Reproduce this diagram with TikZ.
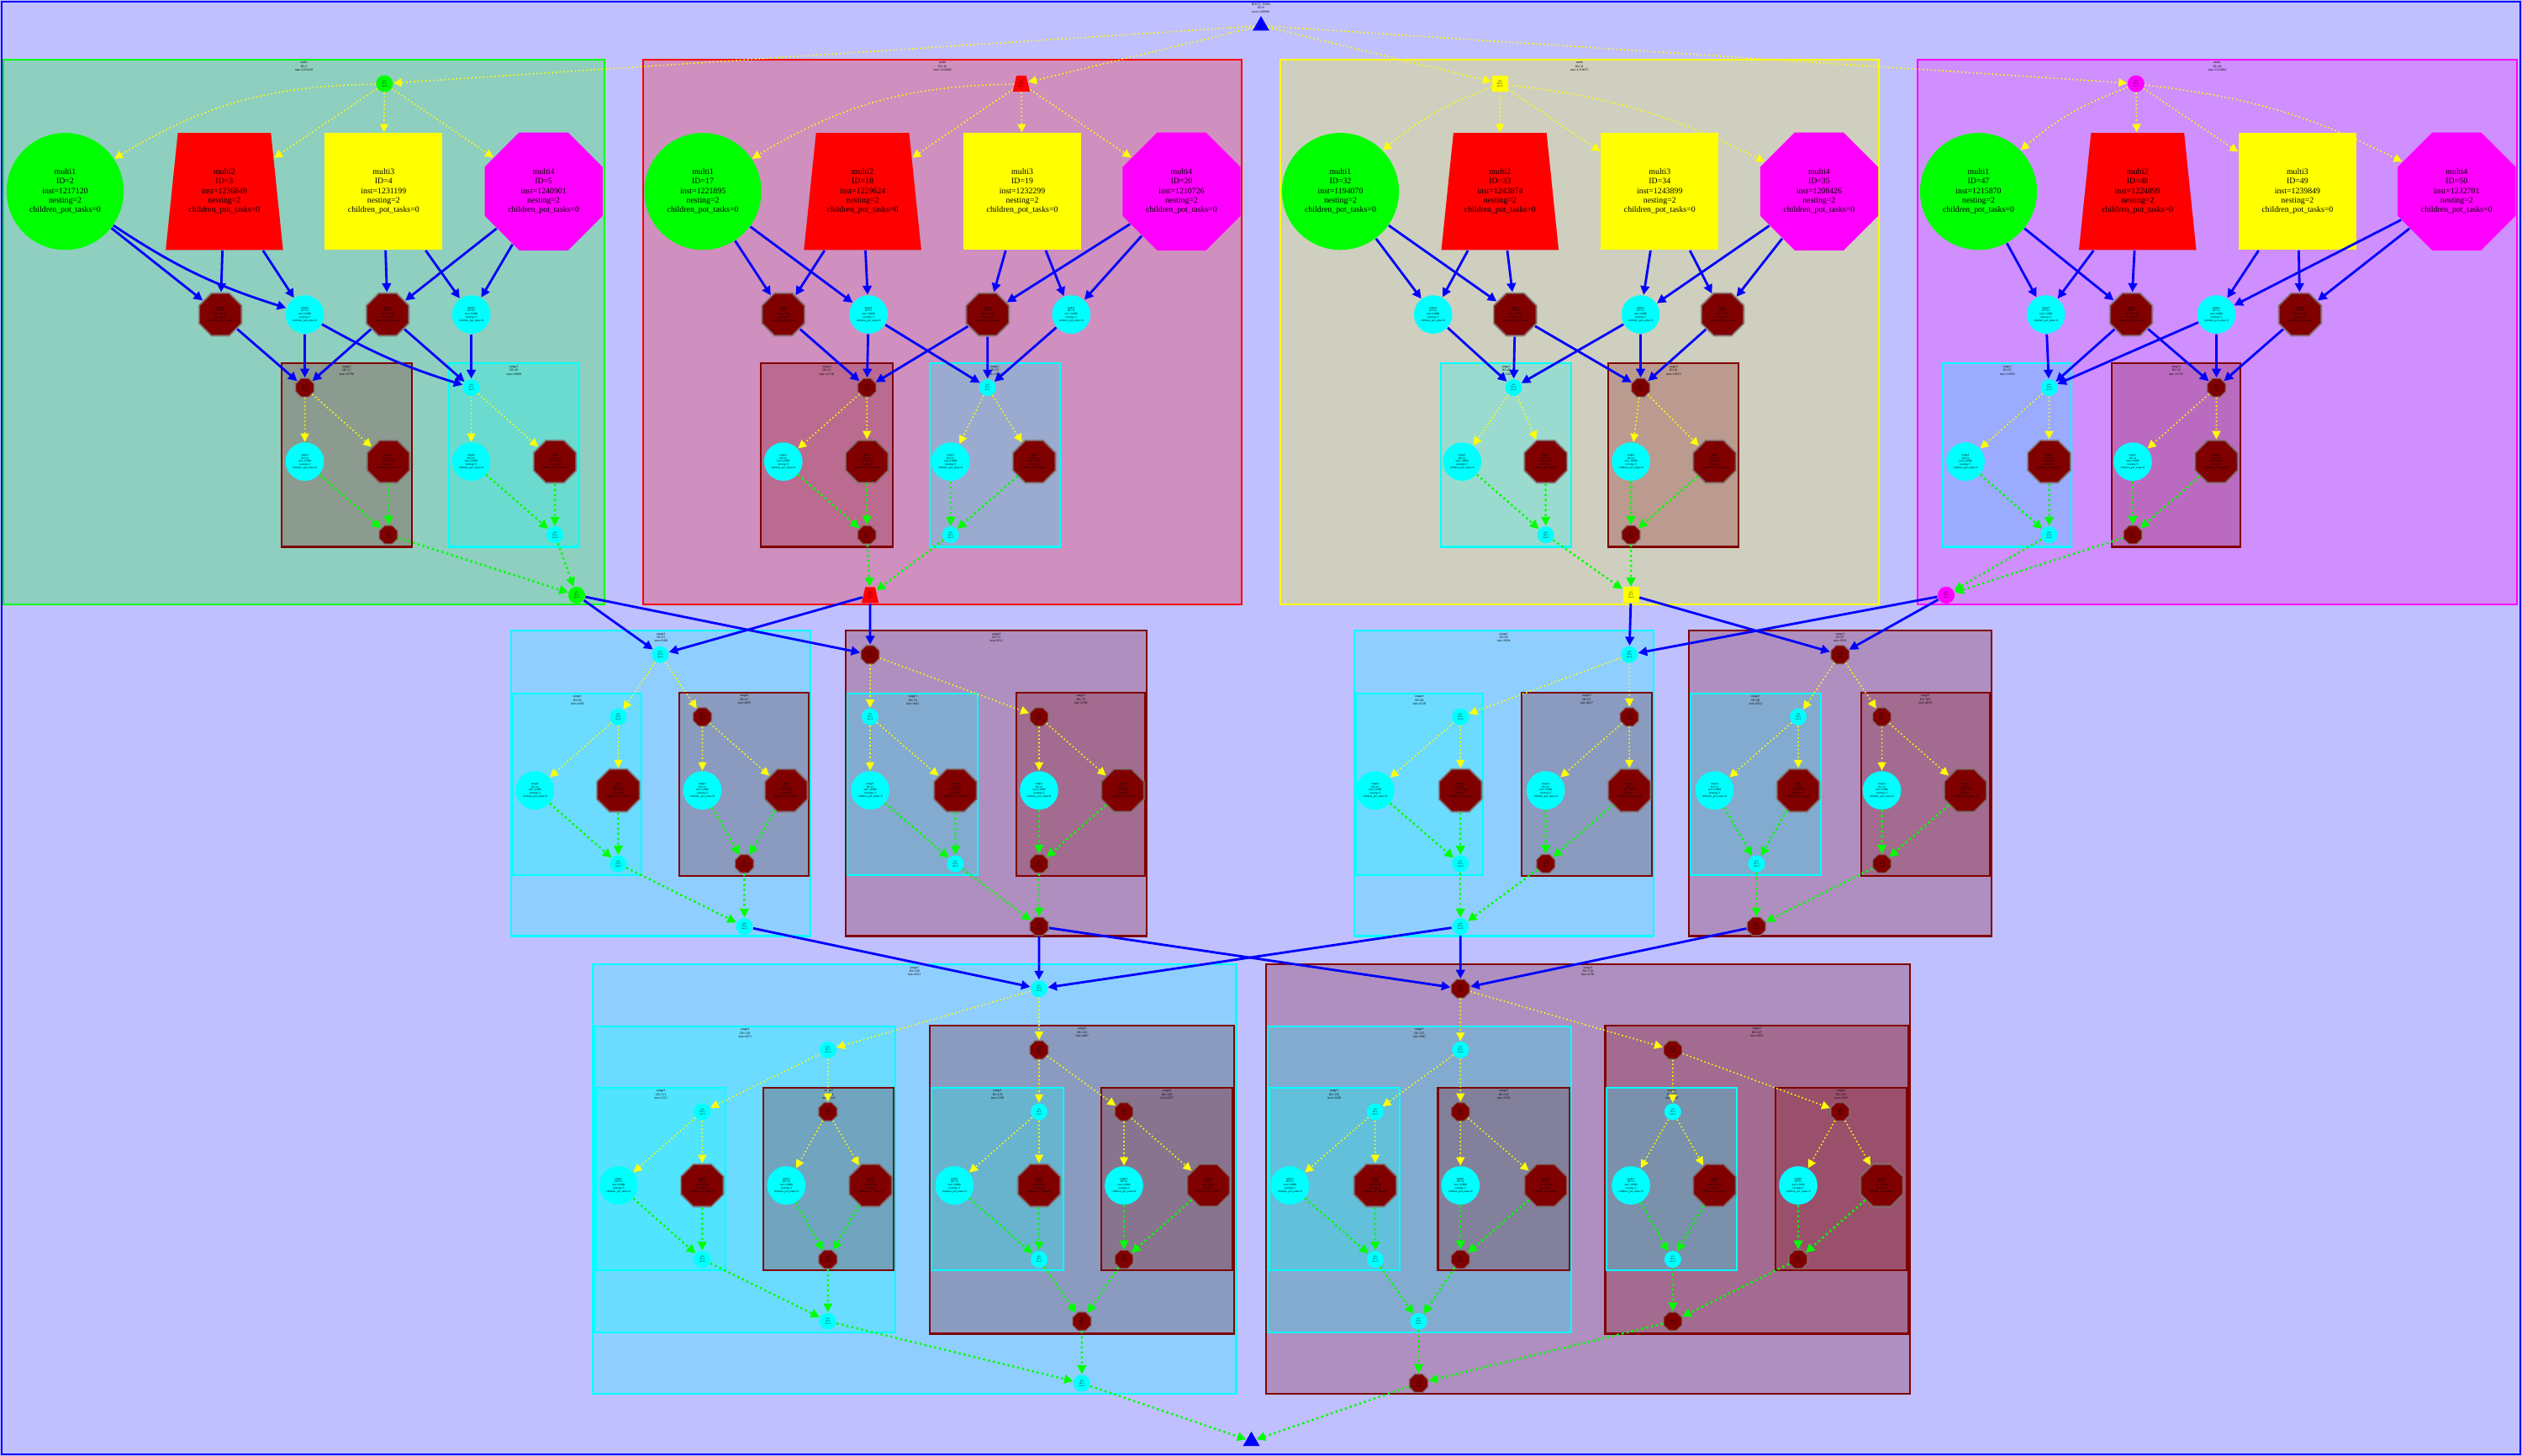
\documentclass[tikz,border=0pt]{standalone}
\usepackage{fontspec}
\setmainfont{Liberation Serif}
\usetikzlibrary{shapes.geometric,arrows.meta,fit,calc}
\definecolor{gr}{RGB}{0,255,0}
\definecolor{cy}{RGB}{0,255,255}
\definecolor{mar}{RGB}{128,0,0}
\definecolor{mg}{RGB}{255,0,255}
\definecolor{yl}{RGB}{255,255,0}
\definecolor{bl}{RGB}{0,0,255}
\definecolor{bgc}{RGB}{192,192,255}
\pgfdeclarelayer{boxes}
\pgfsetlayers{boxes,main}
\newcommand{\sTxt}{join\\ID=0\\inst=0}
\newcommand{\cTxt}{range1\\ID=12\\inst=12088\\nesting=3\\children\_pot\_tasks=0}
\newcommand{\mTxt}{range2\\ID=13\\inst=12790\\nesting=3\\children\_pot\_tasks=0}
\newcommand{\multiTxt}[3]{multi#1\\ID=#2\\inst=#3\\nesting=2\\children\_pot\_tasks=0}
\newcommand{\clbox}[5]{%
  \begin{pgfonlayer}{boxes}\node[#2, fit={(#3) (#4)}] (#1) {};\end{pgfonlayer}%
  \node[lab] at ([yshift=-0.8pt]#1.north) {#5};}
\newcommand{\leafbox}[9]{%
  \clbox{#1box}{box#2}{#3}{#4}{#9}%
  \node[small#2] (#1en) at (#5) {\sTxt};
  \node[bigcy] (#1c) at (#6) {\cTxt};
  \node[bigmar] (#1m) at (#7) {\mTxt};
  \node[small#2] (#1ex) at (#8) {\sTxt};
  \draw[yel] (#1en) -- (#1c);
  \draw[yel] (#1en) -- (#1m);
  \draw[grn] (#1c) -- (#1ex);
  \draw[grn] (#1m) -- (#1ex);}
\begin{document}
\begin{tikzpicture}[x=0.19133mm,y=-0.19133mm,
 boxbase/.style={rectangle, inner sep=0pt, line width=0.6pt, fill opacity=0.25},
 boxcy/.style={boxbase, draw=cy, fill=cy},
 boxmar/.style={boxbase, draw=mar, fill=mar},
 boxgr/.style={boxbase, draw=gr, fill=gr},
 boxred/.style={boxbase, draw=red, fill=red},
 boxyl/.style={boxbase, draw=yl, fill=yl},
 boxmg/.style={boxbase, draw=mg, fill=mg},
 lab/.style={anchor=north, align=center, inner sep=0pt, font=\fontsize{1.1pt}{1.25pt}\selectfont, text=black},
 ntxt/.style={align=center, inner sep=0pt, font=\fontsize{0.95pt}{1.1pt}\selectfont},
 stxt/.style={align=center, inner sep=0pt, font=\fontsize{0.75pt}{0.85pt}\selectfont},
 mtxt/.style={align=center, inner sep=0pt, font=\fontsize{2.8pt}{3.15pt}\selectfont},
 oct/.style={regular polygon, regular polygon sides=8},
 bigcy/.style={ntxt, circle, fill=cy, minimum size=13pt},
 bigmar/.style={ntxt, oct, fill=mar, draw=gray, draw opacity=0.6, line width=0.7pt, minimum size=15.6pt},
 smallcy/.style={stxt, circle, fill=cy, minimum size=5.7pt},
 smallmar/.style={stxt, oct, fill=mar, draw=gray, draw opacity=0.6, line width=0.5pt, minimum size=6.8pt},
 entgr/.style={stxt, circle, fill=gr, minimum size=5.7pt},
 entmg/.style={stxt, circle, fill=mg, minimum size=5.7pt},
 entyl/.style={stxt, rectangle, fill=yl, minimum size=5.4pt},
 entred/.style={stxt, trapezium, trapezium left angle=72, trapezium right angle=72, trapezium stretches=true, fill=red, minimum width=5.8pt, minimum height=5.4pt},
 mone/.style={mtxt, circle, fill=gr, minimum size=39.6pt},
 mtwo/.style={mtxt, trapezium, trapezium left angle=78.3, trapezium right angle=78.3, trapezium stretches=true, fill=red, minimum width=39.8pt, minimum height=39.6pt},
 mthree/.style={mtxt, rectangle, fill=yl, minimum width=39.8pt, minimum height=39.6pt},
 mfour/.style={mtxt, oct, fill=mg, minimum size=43.2pt},
 tri/.style={stxt, regular polygon, regular polygon sides=3, fill=bl, minimum size=6.5pt},
 blu/.style={draw=bl, line width=0.8pt, -{Triangle[length=3pt,width=3pt]}},
 yel/.style={draw=yl, line width=0.45pt, dash pattern=on 0.45pt off 0.85pt, -{Triangle[length=2.8pt,width=2.8pt]}},
 grn/.style={draw=gr, line width=0.7pt, dash pattern=on 0.7pt off 1pt, -{Triangle[length=3pt,width=3pt]}},
]
\useasboundingbox (0,0) rectangle (1568,905);
\begin{pgfonlayer}{boxes}
\fill[bgc] (0,0) rectangle (1568,905);
\draw[bl, line width=0.6pt] (1,1) rectangle (1567,904);
\end{pgfonlayer}

% root
\node[lab] at (784,1.6) {ROOT\_TASK\\ID=0\\inst=1209901};
\node[tri] (root) at (784,16) {};

% ---------------- top cluster 1 (green)
\clbox{C1}{boxgr}{2,37}{376,376}{multi\\ID=1\\inst=1201220}
\node[entgr] (c1en) at (239,52) {\sTxt};
\node[mone] (c1m1) at (40.5,119) {\multiTxt{1}{2}{1217120}};
\node[mtwo] (c1m2) at (139.5,119) {\multiTxt{2}{3}{1236849}};
\node[mthree] (c1m3) at (238.5,119) {\multiTxt{3}{4}{1231199}};
\node[mfour] (c1m4) at (338,119) {\multiTxt{4}{5}{1240901}};
\node[bigmar] (c1r1) at (137,195.5) {\mTxt};
\node[bigcy] (c1r2) at (189.5,195.5) {\cTxt};
\node[bigmar] (c1r3) at (241,195.5) {\mTxt};
\node[bigcy] (c1r4) at (293,195.5) {\cTxt};
\leafbox{c1a}{mar}{175,226}{256,340}{189.5,241}{189.5,287}{241.5,287}{241.5,332.5}{range2\\ID=11\\inst=12790}
\leafbox{c1b}{cy}{279,226}{360,340}{293,241}{293,287}{345,287}{345,332.5}{range1\\ID=10\\inst=12089}
\node[entgr] (c1ex) at (358.5,370) {\sTxt};
\draw[yel] (c1en) to[bend right=15] (c1m1);
\draw[yel] (c1en) -- (c1m2);
\draw[yel] (c1en) -- (c1m3);
\draw[yel] (c1en) -- (c1m4);
\draw[blu] (c1m1) to[bend right=8] (c1r2);
\draw[blu] (c1r2) to[bend right=6] (c1ben);
\foreach \a/\b in {m1/r1,m2/r1,m2/r2,m3/r3,m3/r4,m4/r3,m4/r4,r1/aen,r2/aen,r3/aen,r3/ben,r4/ben}
  \draw[blu] (c1\a) -- (c1\b);
\draw[grn] (c1aex) -- (c1ex);
\draw[grn] (c1bex) -- (c1ex);

% ---------------- top cluster 2 (red)
\clbox{C2}{boxred}{400,37}{772,376}{multi\\ID=16\\inst=1218466}
\node[entred] (c2en) at (635,52) {\sTxt};
\node[mone] (c2m1) at (437,119) {\multiTxt{1}{17}{1221895}};
\node[mtwo] (c2m2) at (536.3,119) {\multiTxt{2}{18}{1229624}};
\node[mthree] (c2m3) at (635.6,119) {\multiTxt{3}{19}{1232299}};
\node[mfour] (c2m4) at (734.6,119) {\multiTxt{4}{20}{1210726}};
\node[bigmar] (c2r1) at (487,195.5) {\mTxt};
\node[bigcy] (c2r2) at (540,195.5) {\cTxt};
\node[bigmar] (c2r3) at (614,195.5) {\mTxt};
\node[bigcy] (c2r4) at (666,195.5) {\cTxt};
\leafbox{c2a}{mar}{473,226}{555,340}{539,241}{487,287}{539,287}{539,332.5}{range2\\ID=26\\inst=12716}
\leafbox{c2b}{cy}{578,226}{659,340}{614,241}{591,287}{643,287}{591,332.5}{range1\\ID=25\\inst=12102}
\node[entred] (c2ex) at (541,370) {\sTxt};
\draw[yel] (c2en) to[bend right=15] (c2m1);
\draw[yel] (c2en) -- (c2m2);
\draw[yel] (c2en) -- (c2m3);
\draw[yel] (c2en) -- (c2m4);
\foreach \a/\b in {m1/r1,m1/r2,m2/r1,m2/r2,m3/r3,m3/r4,m4/r3,m4/r4,r1/aen,r2/aen,r2/ben,r3/aen,r3/ben,r4/ben}
  \draw[blu] (c2\a) -- (c2\b);
\draw[grn] (c2aex) -- (c2ex);
\draw[grn] (c2bex) -- (c2ex);

% ---------------- top cluster 3 (yellow)
\clbox{C3}{boxyl}{796,37}{1168,376}{multi\\ID=31\\inst=1216075}
\node[entyl] (c3en) at (932.5,52) {\sTxt};
\node[mone] (c3m1) at (833.4,119) {\multiTxt{1}{32}{1194070}};
\node[mtwo] (c3m2) at (932.6,119) {\multiTxt{2}{33}{1243874}};
\node[mthree] (c3m3) at (1031.9,119) {\multiTxt{3}{34}{1243899}};
\node[mfour] (c3m4) at (1131,119) {\multiTxt{4}{35}{1208426}};
\node[bigcy] (c3r1) at (891,195.5) {\cTxt};
\node[bigmar] (c3r2) at (942,195.5) {\mTxt};
\node[bigcy] (c3r3) at (1020,195.5) {\cTxt};
\node[bigmar] (c3r4) at (1071,195.5) {\mTxt};
\leafbox{c3a}{cy}{896,226}{977,340}{941,241}{909,287}{961,287}{961,332.5}{range1\\ID=40\\inst=12064}
\leafbox{c3b}{mar}{1000,226}{1081,340}{1020,241}{1014,287}{1066,287}{1014,332.5}{range2\\ID=41\\inst=12813}
\node[entyl] (c3ex) at (1014,370) {\sTxt};
\draw[yel] (c3en) to[bend right=10] (c3m1);
\draw[yel] (c3en) -- (c3m2);
\draw[yel] (c3en) -- (c3m3);
\draw[yel] (c3en) to[bend left=10] (c3m4);
\foreach \a/\b in {m1/r1,m1/r2,m2/r1,m2/r2,m3/r3,m3/r4,m4/r3,m4/r4,r1/aen,r2/aen,r2/ben,r3/aen,r3/ben,r4/ben}
  \draw[blu] (c3\a) -- (c3\b);
\draw[grn] (c3aex) -- (c3ex);
\draw[grn] (c3bex) -- (c3ex);

% ---------------- top cluster 4 (magenta)
\clbox{C4}{boxmg}{1192,37}{1565,376}{multi\\ID=46\\inst=1213084}
\node[entmg] (c4en) at (1328,52) {\sTxt};
\node[mone] (c4m1) at (1230.1,119) {\multiTxt{1}{47}{1215870}};
\node[mtwo] (c4m2) at (1329,119) {\multiTxt{2}{48}{1224899}};
\node[mthree] (c4m3) at (1428.4,119) {\multiTxt{3}{49}{1239849}};
\node[mfour] (c4m4) at (1527.4,119) {\multiTxt{4}{50}{1232701}};
\node[bigcy] (c4r1) at (1272,195.5) {\cTxt};
\node[bigmar] (c4r2) at (1325,195.5) {\mTxt};
\node[bigcy] (c4r3) at (1378,195.5) {\cTxt};
\node[bigmar] (c4r4) at (1430,195.5) {\mTxt};
\leafbox{c4a}{cy}{1208,226}{1288,340}{1274,241}{1222,287}{1274,287}{1274,332.5}{range1\\ID=55\\inst=12050}
\leafbox{c4b}{mar}{1313,226}{1393,340}{1378,241}{1326,287}{1378,287}{1326,332.5}{range2\\ID=56\\inst=12741}
\node[entmg] (c4ex) at (1210,370) {\sTxt};
\draw[yel] (c4en) to[bend right=10] (c4m1);
\draw[yel] (c4en) -- (c4m2);
\draw[yel] (c4en) -- (c4m3);
\draw[yel] (c4en) to[bend left=10] (c4m4);
\foreach \a/\b in {m1/r1,m1/r2,m2/r1,m2/r2,m3/r3,m3/r4,m4/r3,m4/r4,r1/aen,r2/aen,r2/ben,r3/aen,r3/ben,r4/ben}
  \draw[blu] (c4\a) -- (c4\b);
\draw[grn] (c4aex) -- (c4ex);
\draw[grn] (c4bex) -- (c4ex);

% root edges
\draw[yel] (root) -- (c1en);
\draw[yel] (root) -- (c2en);
\draw[yel] (root) -- (c3en);
\draw[yel] (root) -- (c4en);

% ---------------- middle clusters
\clbox{A}{boxcy}{318,392}{504,582}{range1\\ID=61\\inst=9108}
\node[smallcy] (aen) at (410.5,407) {\sTxt};
\leafbox{a1}{cy}{319,431}{399,544}{384.4,445.7}{332.6,491.4}{384.4,491.4}{384.4,537}{range1\\ID=62\\inst=4203}
\leafbox{a2}{mar}{422.5,430.5}{503,544.5}{436.7,445.7}{436.7,491.4}{488.8,491.4}{462.8,537}{range2\\ID=67\\inst=4905}
\node[smallcy] (aex) at (462.8,576) {\sTxt};
\draw[yel] (aen) -- (a1en); \draw[yel] (aen) -- (a2en);
\draw[grn] (a1ex) -- (aex); \draw[grn] (a2ex) -- (aex);

\clbox{B}{boxmar}{526,392}{713,582}{range2\\ID=73\\inst=9212}
\node[smallmar] (ben) at (541,407) {\sTxt};
\leafbox{b1}{cy}{527,431}{608,544}{541,445.7}{541,491.4}{594,491.4}{594,537}{range1\\ID=74\\inst=4411}
\leafbox{b2}{mar}{632,430.5}{712,544.5}{646,445.7}{646,491.4}{698,491.4}{646,537}{range2\\ID=79\\inst=4780}
\node[smallmar] (bex) at (646,576) {\sTxt};
\draw[yel] (ben) -- (b1en); \draw[yel] (ben) -- (b2en);
\draw[grn] (b1ex) -- (bex); \draw[grn] (b2ex) -- (bex);

\clbox{Cm}{boxcy}{842,392}{1028,582}{range1\\ID=85\\inst=9034}
\node[smallcy] (cen) at (1013,407) {\sTxt};
\leafbox{k1}{cy}{843,431}{922,544}{908,445.7}{855,491.4}{908,491.4}{908,537}{range1\\ID=86\\inst=4318}
\leafbox{k2}{mar}{946,430.5}{1027,544.5}{1013,445.7}{961,491.4}{1013,491.4}{961,537}{range2\\ID=91\\inst=4627}
\node[smallcy] (cex) at (908,576) {\sTxt};
\draw[yel] (cen) -- (k1en); \draw[yel] (cen) -- (k2en);
\draw[grn] (k1ex) -- (cex); \draw[grn] (k2ex) -- (cex);

\clbox{D}{boxmar}{1050,392}{1238,582}{range2\\ID=97\\inst=9356}
\node[smallmar] (den) at (1144,407) {\sTxt};
\leafbox{d1}{cy}{1051,431}{1132,544}{1118,445.7}{1066,491.4}{1118,491.4}{1092,537}{range1\\ID=98\\inst=4552}
\leafbox{d2}{mar}{1157,430.5}{1237,544.5}{1170,445.7}{1170,491.4}{1222,491.4}{1170,537}{range2\\ID=103\\inst=4839}
\node[smallmar] (dex) at (1092,576) {\sTxt};
\draw[yel] (den) -- (d1en); \draw[yel] (den) -- (d2en);
\draw[grn] (d1ex) -- (dex); \draw[grn] (d2ex) -- (dex);

% top -> middle
\draw[blu] (c1ex) -- (aen); \draw[blu] (c1ex) -- (ben);
\draw[blu] (c2ex) -- (aen); \draw[blu] (c2ex) -- (ben);
\draw[blu] (c3ex) -- (cen); \draw[blu] (c3ex) -- (den);
\draw[blu] (c4ex) -- (cen); \draw[blu] (c4ex) -- (den);

% ---------------- bottom cluster E
\clbox{E}{boxcy}{368.6,599.5}{768.6,866.7}{range1\\ID=109\\inst=6511}
\node[smallcy] (een) at (646,614.7) {\sTxt};
\clbox{E1}{boxcy}{369.7,638}{556.8,828.4}{range1\\ID=110\\inst=4271}
\node[smallcy] (e1en) at (514.7,652.8) {\sTxt};
\leafbox{e1a}{cy}{370.8,676.2}{451.2,789.9}{436.6,691.2}{384.6,737}{436.6,737}{436.6,783}{range1\\ID=111\\inst=2151}
\leafbox{e1b}{mar}{474.7,676.2}{555.8,789.9}{514.7,691.2}{488.9,737}{541.2,737}{514.7,783}{range2\\ID=116\\inst=2114}
\node[smallcy] (e1ex) at (514.7,821.5) {\sTxt};
\clbox{E2}{boxmar}{578.2,637.6}{767.5,829.2}{range2\\ID=122\\inst=4467}
\node[smallmar] (e2en) at (646,652.8) {\sTxt};
\leafbox{e2a}{cy}{579.2,676.2}{661.2,789.9}{646,691.2}{593.4,737}{646,737}{646,783}{range1\\ID=123\\inst=2190}
\leafbox{e2b}{mar}{684.8,676.2}{766.3,789.9}{698.8,691.2}{698.8,737}{751.3,737}{698.8,783}{range2\\ID=128\\inst=2257}
\node[smallmar] (e2ex) at (672.6,821.5) {\sTxt};
\node[smallcy] (eex) at (672.6,860) {\sTxt};
\draw[yel] (een) -- (e1en); \draw[yel] (een) -- (e2en);
\draw[yel] (e1en) -- (e1aen); \draw[yel] (e1en) -- (e1ben);
\draw[yel] (e2en) -- (e2aen); \draw[yel] (e2en) -- (e2ben);
\draw[grn] (e1aex) -- (e1ex); \draw[grn] (e1bex) -- (e1ex);
\draw[grn] (e2aex) -- (e2ex); \draw[grn] (e2bex) -- (e2ex);
\draw[grn] (e1ex) -- (eex); \draw[grn] (e2ex) -- (eex);

% ---------------- bottom cluster F
\clbox{F}{boxmar}{787,599.5}{1187.5,866.7}{range2\\ID=134\\inst=6702}
\node[smallmar] (fen) at (908,614.7) {\sTxt};
\clbox{F1}{boxcy}{788,638}{977,828.4}{range1\\ID=135\\inst=4381}
\node[smallcy] (f1en) at (908,652.8) {\sTxt};
\leafbox{f1a}{cy}{789,676.2}{870,789.9}{855,691.2}{802,737}{855,737}{855,783}{range1\\ID=136\\inst=2208}
\leafbox{f1b}{mar}{894,676.2}{976,789.9}{908,691.2}{908,737}{961,737}{908,783}{range2\\ID=141\\inst=2163}
\node[smallcy] (f1ex) at (882,821.5) {\sTxt};
\clbox{F2}{boxmar}{998,637.6}{1186.5,829.2}{range2\\ID=147\\inst=4502}
\node[smallmar] (f2en) at (1040,652.8) {\sTxt};
\leafbox{f2a}{cy}{999,676.2}{1080,789.9}{1040,691.2}{1014,737}{1066,737}{1040,783}{range1\\ID=148\\inst=2236}
\leafbox{f2b}{mar}{1104,676.2}{1185.5,789.9}{1144,691.2}{1118,737}{1170,737}{1118,783}{range2\\ID=153\\inst=2182}
\node[smallmar] (f2ex) at (1040,821.5) {\sTxt};
\node[smallmar] (fex) at (882,860) {\sTxt};
\draw[yel] (fen) -- (f1en); \draw[yel] (fen) -- (f2en);
\draw[yel] (f1en) -- (f1aen); \draw[yel] (f1en) -- (f1ben);
\draw[yel] (f2en) -- (f2aen); \draw[yel] (f2en) -- (f2ben);
\draw[grn] (f1aex) -- (f1ex); \draw[grn] (f1bex) -- (f1ex);
\draw[grn] (f2aex) -- (f2ex); \draw[grn] (f2bex) -- (f2ex);
\draw[grn] (f1ex) -- (fex); \draw[grn] (f2ex) -- (fex);

% middle -> bottom
\draw[blu] (aex) -- (een);
\draw[blu] (bex) -- (een); \draw[blu] (bex) -- (fen);
\draw[blu] (cex) -- (een); \draw[blu] (cex) -- (fen);
\draw[blu] (dex) -- (fen);

% sink
\node[tri] (sink) at (778,896) {};
\draw[grn] (eex) -- (sink);
\draw[grn] (fex) -- (sink);
\end{tikzpicture}
\end{document}
